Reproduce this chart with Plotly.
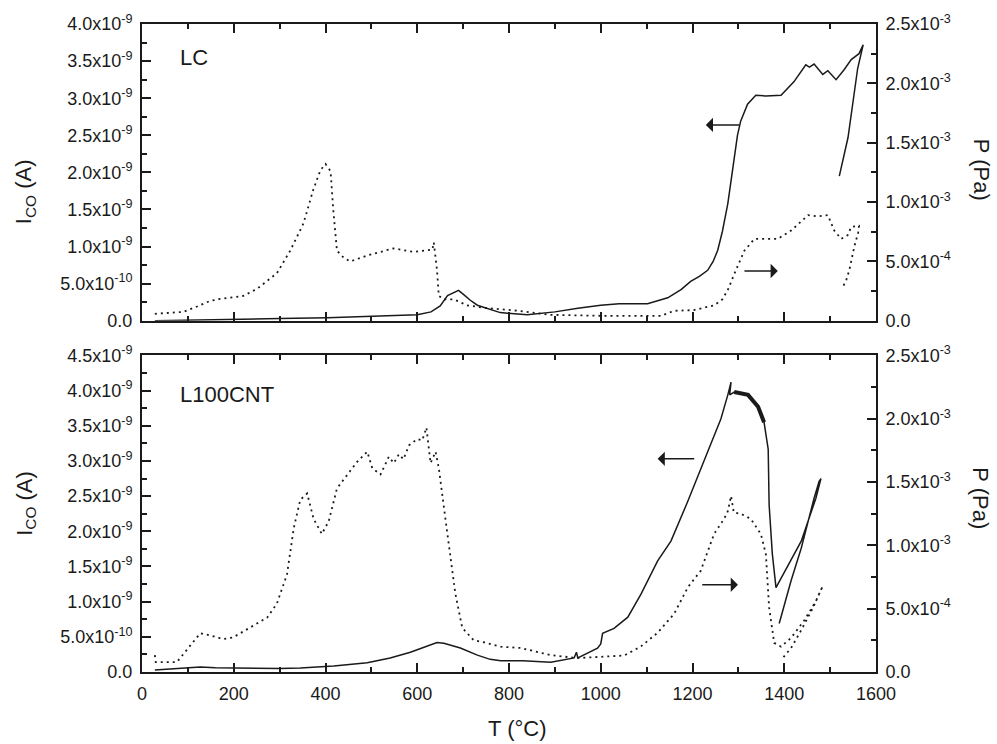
import plotly.graph_objects as go

# ---- LC sample: CO ion current (units of 1e-9 A) and pressure (units of 1e-4 Pa) vs temperature
lc_T_ico = [28, 100, 200, 300, 404, 500, 600, 630, 650, 666, 680, 690, 700, 715, 731, 750, 781,
            840, 900, 950, 1000, 1040, 1102, 1146, 1175, 1196, 1215, 1233, 1245, 1255, 1265, 1277,
            1285, 1291, 1298, 1305, 1320, 1338, 1360, 1393, 1421, 1447, 1455, 1465, 1475, 1484,
            1495, 1513, 1530, 1546, 1563, 1572, 1560, 1553, 1539, 1520]
lc_ico = [0.0, 0.01, 0.02, 0.03, 0.04, 0.06, 0.08, 0.12, 0.2, 0.34, 0.38, 0.41, 0.36, 0.28, 0.21,
          0.17, 0.11, 0.08, 0.12, 0.17, 0.21, 0.23, 0.23, 0.31, 0.42, 0.53, 0.6, 0.68, 0.8, 0.95,
          1.2, 1.58, 1.95, 2.25, 2.5, 2.69, 2.92, 3.04, 3.03, 3.04, 3.22, 3.45, 3.42, 3.46, 3.38,
          3.32, 3.37, 3.25, 3.38, 3.52, 3.60, 3.72, 3.40, 3.10, 2.47, 1.95]

lc_T_p = [28, 90, 120, 148, 170, 221, 251, 294, 323, 352, 373, 389, 400, 411, 417, 425, 440, 454,
          491, 548, 592, 633, 636, 643, 647, 658, 680, 709, 745, 782, 820, 891, 1000, 1131, 1160,
          1203, 1247, 1265, 1277, 1295, 1313, 1335, 1386, 1415, 1452, 1473, 1495, 1509, 1524,
          1538, 1546, 1563, 1561, 1553, 1546, 1542, 1535, 1527]
lc_p = [0.59, 0.75, 1.2, 1.67, 1.84, 2.1, 2.7, 4.0, 5.9, 8.2, 11.0, 12.7, 13.2, 12.6, 9.3, 5.9,
        5.3, 5.0, 5.5, 6.1, 5.8, 6.0, 6.6, 4.3, 2.1, 1.8, 1.8, 1.3, 1.1, 1.0, 0.84, 0.5, 0.42,
        0.42, 0.84, 0.9, 1.3, 1.8, 2.6, 4.3, 5.9, 6.9, 6.9, 7.6, 8.9, 8.8, 8.9, 7.6, 6.9, 7.2,
        7.9, 8.0, 7.4, 6.3, 5.1, 4.3, 3.4, 2.8]

# ---- L100CNT sample
cnt_T_ico = [28, 60, 100, 127, 160, 199, 300, 345, 418, 491, 541, 585, 614, 643, 658, 694, 731,
             759, 782, 830, 891, 942, 947, 950, 993, 1000, 1004, 1029, 1059, 1088, 1124, 1153,
             1190, 1225, 1262, 1277, 1284, 1281, 1291, 1321, 1343, 1356, 1365, 1367, 1374, 1382,
             1393, 1437, 1469, 1480, 1476, 1465, 1437, 1415, 1389]
cnt_ico = [0.03, 0.04, 0.06, 0.07, 0.06, 0.056, 0.05, 0.056, 0.085, 0.13, 0.2, 0.28, 0.35, 0.42,
           0.41, 0.34, 0.24, 0.18, 0.16, 0.16, 0.14, 0.2, 0.28, 0.2, 0.34, 0.4, 0.55, 0.62, 0.78,
           1.11, 1.58, 1.86, 2.43, 2.99, 3.60, 3.94, 4.12, 3.94, 3.98, 3.94, 3.77, 3.55, 3.17,
           2.38, 1.68, 1.2, 1.33, 1.86, 2.47, 2.75, 2.71, 2.47, 1.76, 1.30, 0.69]

cnt_T_p = [28, 30, 76, 97, 127, 148, 177, 199, 236, 273, 294, 316, 331, 345, 360, 374, 392, 407,
           425, 447, 469, 491, 502, 520, 538, 549, 560, 570, 582, 600, 611, 620, 629, 640, 647,
           665, 683, 698, 723, 745, 782, 825, 891, 949, 1000, 1051, 1087, 1124, 1160, 1190, 1218,
           1247, 1269, 1277, 1284, 1290, 1305, 1327, 1349, 1360, 1367, 1378, 1393, 1415, 1444,
           1469, 1484, 1463, 1437, 1415, 1393]
cnt_p = [1.33, 0.78, 0.78, 1.7, 3.06, 2.9, 2.6, 2.74, 3.5, 4.3, 5.4, 7.7, 11.4, 13.6, 14.1, 12.1,
         10.9, 11.9, 14.5, 15.6, 16.6, 17.4, 16.1, 15.6, 17.0, 16.5, 17.2, 16.8, 17.9, 18.4, 18.3,
         19.3, 16.5, 17.4, 16.1, 11.1, 6.2, 3.5, 2.5, 2.35, 2.0, 1.9, 1.33, 1.1, 1.2, 1.3, 2.0,
         3.1, 4.6, 6.7, 8.0, 10.9, 12.1, 12.7, 13.9, 12.6, 12.5, 12.1, 10.9, 9.3, 5.1, 2.3, 2.0,
         2.7, 4.1, 5.6, 6.8, 5.1, 3.3, 1.9, 0.94]

# noisy plateau of the L100CNT current, drawn heavier (index range into cnt_* lists)
cnt_noisy = slice(38, 42)

# ---- tick labels
t_ticks = [0, 200, 400, 600, 800, 1000, 1200, 1400, 1600]
ico_top_vals = [0, 0.5, 1.0, 1.5, 2.0, 2.5, 3.0, 3.5, 4.0]
ico_top_text = ["0.0", "5.0x10<sup>-10</sup>", "1.0x10<sup>-9</sup>", "1.5x10<sup>-9</sup>",
                "2.0x10<sup>-9</sup>", "2.5x10<sup>-9</sup>", "3.0x10<sup>-9</sup>",
                "3.5x10<sup>-9</sup>", "4.0x10<sup>-9</sup>"]
ico_bot_vals = ico_top_vals + [4.5]
ico_bot_text = ico_top_text + ["4.5x10<sup>-9</sup>"]
p_vals = [0, 5, 10, 15, 20, 25]
p_text = ["0.0", "5.0x10<sup>-4</sup>", "1.0x10<sup>-3</sup>", "1.5x10<sup>-3</sup>",
          "2.0x10<sup>-3</sup>", "2.5x10<sup>-3</sup>"]

NA = 1e-9
P_UNIT = 1e-4

FONT = "Liberation Sans, Arial, sans-serif"
INK = "#1a1a1a"

fig = go.Figure()

solid = dict(color=INK, width=1.5)
dotted = dict(color=INK, width=1.8, dash="2px,4px")

fig.add_trace(go.Scatter(x=lc_T_ico, y=[v * NA for v in lc_ico], mode="lines", line=solid,
                         xaxis="x", yaxis="y", showlegend=False))
fig.add_trace(go.Scatter(x=lc_T_p, y=[v * P_UNIT for v in lc_p], mode="lines", line=dotted,
                         xaxis="x", yaxis="y2", showlegend=False))
fig.add_trace(go.Scatter(x=cnt_T_ico, y=[v * NA for v in cnt_ico], mode="lines", line=solid,
                         xaxis="x2", yaxis="y3", showlegend=False))
fig.add_trace(go.Scatter(x=cnt_T_ico[cnt_noisy], y=[v * NA for v in cnt_ico[cnt_noisy]],
                         mode="lines", line=dict(color=INK, width=4),
                         xaxis="x2", yaxis="y3", showlegend=False))
fig.add_trace(go.Scatter(x=cnt_T_p, y=[v * P_UNIT for v in cnt_p], mode="lines", line=dotted,
                         xaxis="x2", yaxis="y4", showlegend=False))

tick_font = dict(family=FONT, size=18, color=INK)
line_common = dict(showline=True, linewidth=2, linecolor=INK, ticks="inside", tickwidth=1.5,
                   tickcolor=INK, showgrid=False, zeroline=False, tickfont=tick_font)

top_dom = [0.542, 1.0]
bot_dom = [0.0, 0.4885]

x_common = dict(range=[0, 1600], tickvals=t_ticks, ticklen=9, mirror="ticks",
                minor=dict(tickmode="linear", tick0=0, dtick=100, ticks="inside", ticklen=5,
                           tickwidth=1.5, tickcolor=INK),
                **line_common)


def y_axis(rng, vals, text, minor_step, **extra):
    return dict(range=rng, tickvals=vals, ticktext=text, ticklen=9, ticklabelstandoff=4,
                minor=dict(tickmode="linear", tick0=0, dtick=minor_step, ticks="inside",
                           ticklen=5, tickwidth=1.5, tickcolor=INK),
                **extra, **line_common)


fig.update_layout(
    width=997, height=744,
    margin=dict(l=142, r=121, t=19, b=72),
    paper_bgcolor="white", plot_bgcolor="white",
    font=dict(family=FONT, color=INK),
    xaxis=dict(domain=[0, 1], anchor="y", showticklabels=False, **x_common),
    xaxis2=dict(domain=[0, 1], anchor="y3", showticklabels=True, ticklabelstandoff=4, **x_common),
    yaxis=y_axis([0, 4 * NA], [v * NA for v in ico_top_vals], ico_top_text, 0.25 * NA,
                 domain=top_dom, anchor="x"),
    yaxis2=y_axis([0, 25 * P_UNIT], [v * P_UNIT for v in p_vals], p_text, 2.5 * P_UNIT,
                  overlaying="y", side="right", anchor="x"),
    yaxis3=y_axis([0, 4.5 * NA], [v * NA for v in ico_bot_vals], ico_bot_text, 0.25 * NA,
                  domain=bot_dom, anchor="x2"),
    yaxis4=y_axis([0, 25 * P_UNIT], [v * P_UNIT for v in p_vals], p_text, 2.5 * P_UNIT,
                  overlaying="y3", side="right", anchor="x2"),
)

# panel labels
label_font = dict(family=FONT, size=22, color=INK)
fig.add_annotation(x=79, y=3.55 * NA, xref="x", yref="y", text="LC", showarrow=False,
                   xanchor="left", yanchor="middle", font=label_font)
fig.add_annotation(x=79, y=3.95 * NA, xref="x2", yref="y3", text="L100CNT", showarrow=False,
                   xanchor="left", yanchor="middle", font=label_font)

# arrows pointing to the axis each curve belongs to: (tail T, head T, level in 1e-9 A)
arrows_top = [(1305, 1229, 2.64), (1310, 1386, 0.67)]
arrows_bot = [(1207, 1124, 3.03), (1218, 1299, 1.24)]
for xr, yr, arrows in (("x", "y", arrows_top), ("x2", "y3", arrows_bot)):
    for tail, head, lvl in arrows:
        fig.add_annotation(x=head, y=lvl * NA, ax=tail, ay=lvl * NA, xref=xr, yref=yr,
                           axref=xr, ayref=yr, text="", showarrow=True, arrowhead=1,
                           arrowsize=1.6, arrowwidth=1.5, arrowcolor=INK)

# axis titles
title_font = dict(family=FONT, size=22, color=INK)
for yc in (0.741, 0.260):
    fig.add_annotation(x=-0.159, y=yc, xref="paper", yref="paper",
                       text="I<sub>CO</sub> (A)", showarrow=False, textangle=-90,
                       xanchor="center", yanchor="middle", font=title_font)
for yc in (0.775, 0.268):
    fig.add_annotation(x=1.143, y=yc, xref="paper", yref="paper", text="P (Pa)",
                       showarrow=False, textangle=90, xanchor="center", yanchor="middle",
                       font=title_font)
fig.add_annotation(x=0.511, y=-0.0873, xref="paper", yref="paper", text="T (°C)",
                   showarrow=False, xanchor="center", yanchor="middle", font=title_font)

fig.write_html("out.html")
